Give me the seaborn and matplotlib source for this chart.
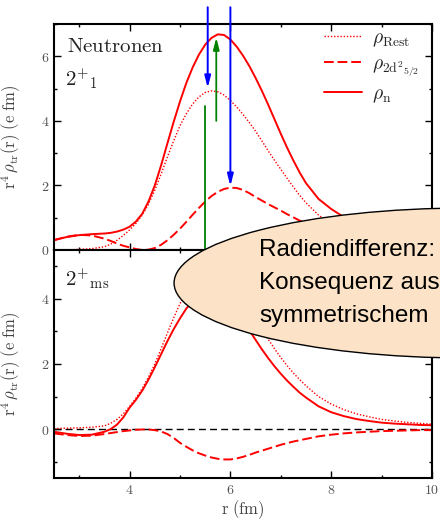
import matplotlib
matplotlib.use("Agg")
import matplotlib.pyplot as plt
import matplotlib.ticker as mticker
from matplotlib.patches import Ellipse
import seaborn as sns
import pandas as pd

# ---------------- data ----------------
r = [2.5, 2.75, 3.0, 3.25, 3.5,
     3.625, 3.75, 3.875, 4.0, 4.125, 4.25, 4.375, 4.5, 4.625, 4.75, 4.875, 5.0,
     5.125, 5.25, 5.375, 5.5, 5.625, 5.75, 5.875, 6.0, 6.125, 6.25, 6.375, 6.5,
     6.625, 6.75, 6.875, 7.0, 7.125, 7.25, 7.375, 7.5,
     7.75, 8.0, 8.25, 8.5, 8.75, 9.0, 9.25, 9.5, 9.75, 10.0]

# 2+_1 panel
rho_n_1 = [0.31, 0.40, 0.46, 0.49, 0.51,
           0.53, 0.57, 0.63, 0.72, 0.88, 1.12, 1.5, 2.0, 2.62, 3.3, 3.97, 4.6,
           5.17, 5.65, 6.05, 6.36, 6.57, 6.68, 6.66, 6.52, 6.3, 6.02, 5.7, 5.33,
           4.93, 4.5, 4.05, 3.6, 3.17, 2.77, 2.4, 2.07,
           1.58, 1.27, 1.02, 0.8, 0.6, 0.45, 0.33, 0.24, 0.17, 0.12]
rho_rest_1 = [0.0, 0.0, 0.02, 0.04, 0.1,
              0.18, 0.3, 0.45, 0.62, 0.82, 1.08, 1.42, 1.85, 2.35, 2.88, 3.38, 3.85,
              4.22, 4.52, 4.74, 4.88, 4.93, 4.9, 4.8, 4.63, 4.43, 4.2, 3.95, 3.68,
              3.38, 3.07, 2.78, 2.5, 2.22, 1.95, 1.69, 1.46,
              1.08, 0.8, 0.6, 0.45, 0.35, 0.27, 0.2, 0.15, 0.11, 0.08]
rho_2d_1 = [0.30, 0.41, 0.47, 0.45, 0.35,
            0.28, 0.2, 0.13, 0.08, 0.03, 0.0, 0.01, 0.06, 0.16, 0.3, 0.47, 0.66,
            0.87, 1.09, 1.3, 1.5, 1.67, 1.8, 1.89, 1.93, 1.92, 1.86, 1.76, 1.64,
            1.53, 1.42, 1.32, 1.22, 1.11, 1.01, 0.91, 0.82,
            0.65, 0.5, 0.4, 0.3, 0.23, 0.17, 0.13, 0.1, 0.07, 0.05]

# 2+_ms panel
rho_n_2 = [-0.08, -0.14, -0.18, -0.17, -0.08,
           0.0, 0.14, 0.36, 0.66, 0.9, 1.18, 1.52, 1.9, 2.3, 2.7, 3.07, 3.4,
           3.7, 3.93, 4.1, 4.18, 4.2, 4.15, 4.02, 3.83, 3.6, 3.33, 3.04, 2.74,
           2.45, 2.18, 1.93, 1.7, 1.49, 1.3, 1.12, 0.97,
           0.7, 0.52, 0.4, 0.31, 0.25, 0.2, 0.17, 0.15, 0.13, 0.12]
rho_rest_2 = [0.02, 0.03, 0.04, 0.06, 0.1,
              0.18, 0.3, 0.47, 0.7, 0.95, 1.25, 1.6, 2.0, 2.47, 2.95, 3.42, 3.85,
              4.2, 4.5, 4.7, 4.8, 4.82, 4.78, 4.65, 4.47, 4.23, 3.96, 3.67, 3.37,
              3.06, 2.76, 2.47, 2.2, 1.95, 1.72, 1.52, 1.33,
              1.0, 0.77, 0.6, 0.47, 0.38, 0.3, 0.25, 0.21, 0.18, 0.15]
rho_2d_2 = [-0.13, -0.18, -0.21, -0.2, -0.15,
            -0.12, -0.09, -0.06, -0.04, -0.02, -0.01, -0.01, -0.03, -0.07, -0.15, -0.27, -0.42,
            -0.54, -0.65, -0.74, -0.81, -0.87, -0.91, -0.93, -0.93, -0.9, -0.85, -0.79, -0.72,
            -0.66, -0.6, -0.54, -0.48, -0.43, -0.38, -0.34, -0.3,
            -0.22, -0.17, -0.13, -0.1, -0.08, -0.06, -0.05, -0.04, -0.03, -0.03]

# annotation arrows (r position, start, end)
blue_arrows = [(5.55, 7.52, 5.02), (6.0, 7.52, 1.98)]
green_arrow = (5.72, 4.0, 6.58)
green_line = (5.5, 0.0, 4.46)

labels = [r"$\rho_{\mathrm{Rest}}$", r"$\rho_{\mathrm{2d}^{2}{}_{5/2}}$", r"$\rho_{\mathrm{n}}$"]
bubble_lines = ["Radiendifferenz:", "Konsequenz aus", "symmetrischem"]

# ---------------- style ----------------
sns.set_theme(style="ticks")
plt.rcParams["mathtext.fontset"] = "cm"
plt.rcParams["font.family"] = ["DejaVu Serif"]

fig = plt.figure(figsize=(4.4, 5.21), dpi=100)
ax1 = fig.add_axes([0.1227, 0.5202, 0.8591, 0.4337])
ax2 = fig.add_axes([0.1227, 0.0825, 0.8591, 0.4377])

RED = "#ff0000"
dotted = (0, (1, 1.3))
dashed = (0, (5, 2))

df1 = pd.DataFrame({"r": r, "rest": rho_rest_1, "d": rho_2d_1, "n": rho_n_1})
df2 = pd.DataFrame({"r": r, "rest": rho_rest_2, "d": rho_2d_2, "n": rho_n_2})

for ax, df in ((ax1, df1), (ax2, df2)):
    sns.lineplot(data=df, x="r", y="rest", ax=ax, color=RED, lw=1.0, linestyle=dotted,
                 label=labels[0])
    sns.lineplot(data=df, x="r", y="d", ax=ax, color=RED, lw=1.4, linestyle=dashed,
                 label=labels[1])
    sns.lineplot(data=df, x="r", y="n", ax=ax, color=RED, lw=1.4, linestyle="-",
                 label=labels[2])

ax2.axhline(0, color="black", lw=1.0, linestyle=(0, (5, 3)), zorder=1)

fmt = mticker.FuncFormatter(lambda v, p: f"${v:g}$")
for ax, ylim, ymaj in ((ax1, (0, 7), [0, 2, 4, 6]), (ax2, (-1.5, 5.5), [0, 2, 4])):
    ax.set_xlim(2.5, 10)
    ax.set_ylim(*ylim)
    ax.set_xticks([4, 6, 8, 10])
    ax.xaxis.set_minor_locator(mticker.MultipleLocator(1))
    ax.set_yticks(ymaj)
    ax.yaxis.set_minor_locator(mticker.MultipleLocator(1))
    ax.xaxis.set_major_formatter(fmt)
    ax.yaxis.set_major_formatter(fmt)
    ax.tick_params(which="both", direction="in", top=True, right=True, width=1.0,
                   labelsize=10, labelcolor="#555555", color="black")
    ax.tick_params(which="major", length=5)
    ax.tick_params(which="minor", length=2.5)
    for s in ax.spines.values():
        s.set_linewidth(1.5)
        s.set_color("black")
    ax.set_ylabel(r"$\mathrm{r}^{4}\,\rho_{\mathrm{tr}}(\mathrm{r})\ (\mathrm{e\ fm})$",
                  fontsize=12, color="#444444")
    ax.yaxis.set_label_coords(-0.082, 0.5)

ax1.tick_params(labelbottom=False)
ax1.set_xlabel("")
ax2.set_xlabel(r"$\mathrm{r\ (fm)}$", fontsize=12, color="#444444", labelpad=1)

ax2.get_legend().remove()
leg = ax1.legend(loc="upper left", bbox_to_anchor=(0.713, 0.978), frameon=False,
                 fontsize=14, handlelength=2.0, handletextpad=0.5, labelspacing=0.32,
                 borderpad=0, borderaxespad=0)

ax1.text(0.034, 0.876, r"$\mathrm{Neutronen}$", transform=ax1.transAxes, fontsize=15,
         va="baseline", ha="left", color="#222222")
ax1.text(0.029, 0.73, r"$2^{+}{}_{1}$", transform=ax1.transAxes, fontsize=15,
         va="baseline", ha="left", color="#222222")
ax2.text(0.029, 0.846, r"$2^{+}{}_{\mathrm{ms}}$", transform=ax2.transAxes, fontsize=15,
         va="baseline", ha="left", color="#222222")

# arrows
for x, y0, y1 in blue_arrows:
    ax1.annotate("", xy=(x, y1), xytext=(x, y0), annotation_clip=False,
                 arrowprops=dict(arrowstyle="-|>,head_length=0.7,head_width=0.18",
                                 mutation_scale=10, lw=1.4, color="#0000ff",
                                 shrinkA=0, shrinkB=0))
gx, gy0, gy1 = green_arrow
ax1.annotate("", xy=(gx, gy1), xytext=(gx, gy0), annotation_clip=False,
             arrowprops=dict(arrowstyle="-|>,head_length=0.7,head_width=0.18",
                             mutation_scale=10, lw=1.3, color="#008000",
                             shrinkA=0, shrinkB=0))
lx, ly0, ly1 = green_line
ax1.plot([lx, lx], [ly0, ly1], color="#008000", lw=1.3, clip_on=False)

# speech bubble
ell = Ellipse((1.0636, 0.4568), 1.336, 0.288, transform=fig.transFigure,
              facecolor="#fce2c6", edgecolor="black", lw=1.0, zorder=10)
fig.add_artist(ell)
for txt, yb in zip(bubble_lines, [0.5086, 0.4453, 0.3820]):
    fig.text(0.5886, yb, txt, fontsize=17.5, family=["Liberation Sans", "DejaVu Sans"],
             va="baseline", ha="left", color="black", zorder=11)

fig.savefig("out.png", dpi=100)
